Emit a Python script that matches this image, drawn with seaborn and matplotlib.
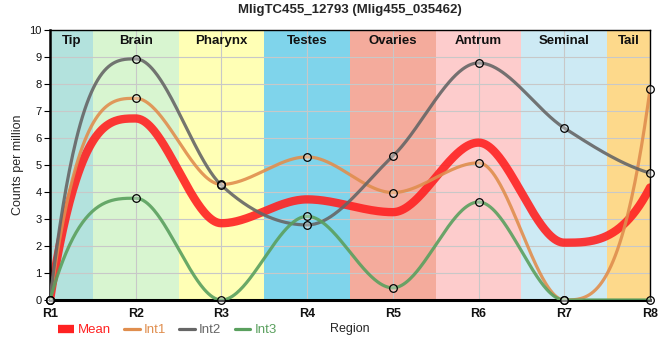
import numpy as np
import pandas as pd
import matplotlib
matplotlib.use("Agg")
import matplotlib.pyplot as plt
from matplotlib.lines import Line2D
import seaborn as sns

# ---- data ----
regions = ["R1", "R2", "R3", "R4", "R5", "R6", "R7", "R8"]
int1 = [0, 7.47, 4.28, 5.30, 3.98, 5.08, 0, 7.80]
int2 = [0, 8.93, 4.25, 2.78, 5.33, 8.78, 6.37, 4.70]
int3 = [0, 3.77, 0, 3.10, 0.45, 3.63, 0, 0]
mean = list(np.mean([int1, int2, int3], axis=0))

band_names = ["Tip", "Brain", "Pharynx", "Testes", "Ovaries", "Antrum", "Seminal", "Tail"]
band_colors = ["#b3e2dd", "#d8f5d0", "#ffffb5", "#7fd4eb", "#f4ab9c", "#fdcccc", "#cdeaf4", "#fdd98b"]

series_colors = {"Mean": "#ff2222", "Int1": "#e08e4e", "Int2": "#666666", "Int3": "#5aa05e"}


def monotone(x, y, n=80):
    # monotone cubic through the points (steffen tangents inside)
    x = np.asarray(x, float); y = np.asarray(y, float)
    h = np.diff(x); s = np.diff(y) / h
    m = np.zeros_like(y)
    for i in range(1, len(y) - 1):
        p = (s[i-1] * h[i] + s[i] * h[i-1]) / (h[i-1] + h[i])
        m[i] = (np.sign(s[i-1]) + np.sign(s[i])) * min(abs(s[i-1]), abs(s[i]), 0.5 * abs(p))
    # end tangents: zero curvature at the inner end of the first/last segment
    m[0] = 3 * s[0] - 2 * m[1]
    m[-1] = 3 * s[-1] - 2 * m[-2]
    xs, ys = [], []
    for i in range(len(h)):
        t = np.linspace(0, 1, n)
        h00 = 2*t**3 - 3*t**2 + 1; h10 = t**3 - 2*t**2 + t
        h01 = -2*t**3 + 3*t**2; h11 = t**3 - t**2
        xs.append(x[i] + t * h[i])
        ys.append(h00*y[i] + h10*h[i]*m[i] + h01*y[i+1] + h11*h[i]*m[i+1])
    return np.concatenate(xs), np.concatenate(ys)


sns.set_theme(style="white")
plt.rcParams["font.family"] = ["Liberation Sans", "DejaVu Sans"]

fig = plt.figure(figsize=(6.6, 3.6), dpi=100)
ax = fig.add_axes([50/660, 60/360, 600/660, 270/360])

xpos = np.arange(len(regions))
for i, (nm, c) in enumerate(zip(band_names, band_colors)):
    lo = max(i - 0.5, 0); hi = min(i + 0.5, len(regions) - 1)
    ax.axvspan(lo, hi, color=c, lw=0, zorder=0)
    ax.text((lo + hi) / 2, 9.58, nm, ha="center", va="center", fontsize=9.5,
            fontweight="bold", color="#111111", zorder=1)

for v in range(11):
    ax.axhline(v, color="#c8c8c8", lw=0.8, zorder=0.5)
for v in xpos:
    ax.axvline(v, color="#c8c8c8", lw=0.8, zorder=0.5)

curves = []
for name, vals in [("Int1", int1), ("Int2", int2), ("Int3", int3), ("Mean", mean)]:
    cx, cy = monotone(xpos, vals)
    curves.append(pd.DataFrame({"x": cx, "y": cy, "series": name}))
curves = pd.concat(curves)

sns.lineplot(data=curves[curves.series == "Mean"], x="x", y="y", color=series_colors["Mean"],
             lw=6, alpha=0.9, ax=ax, zorder=2, estimator=None, sort=False)
for name in ["Int1", "Int2", "Int3"]:
    sns.lineplot(data=curves[curves.series == name], x="x", y="y", color=series_colors[name],
                 lw=2.3, alpha=0.9, ax=ax, zorder=3, estimator=None, sort=False)

pts = pd.DataFrame({"x": np.tile(xpos, 3), "y": int1 + int2 + int3})
sns.scatterplot(data=pts, x="x", y="y", s=30, facecolor=(1, 1, 1, 0.3), edgecolor="black",
                linewidth=0.9, ax=ax, zorder=4, clip_on=False)

ax.set_xlim(0, len(regions) - 1)
ax.set_ylim(0, 10)
ax.set_xticks(xpos)
ax.set_xticklabels(regions, fontsize=9, fontweight="bold", color="#111111")
ax.set_yticks(range(11))
ax.set_yticklabels([str(v) for v in range(11)], fontsize=8, color="#111111")
ax.tick_params(axis="y", length=4, width=0.8, color="black", pad=2, left=True)
ax.tick_params(axis="x", length=0, pad=6)
for sp in ax.spines.values():
    sp.set_visible(True); sp.set_color("black"); sp.set_linewidth(1.0)
ax.spines["bottom"].set_linewidth(2.2)
ax.spines["left"].set_linewidth(1.8)

ax.set_xlabel("Region", fontsize=9, labelpad=2)
ax.set_ylabel("Counts per million", fontsize=9, labelpad=4)
ax.set_title("MligTC455_12793 (Mlig455_035462)", fontsize=9.5, fontweight="bold", pad=12)

handles = [Line2D([], [], color=series_colors["Mean"], lw=6, solid_capstyle="butt"),
           Line2D([], [], color=series_colors["Int1"], lw=2.3),
           Line2D([], [], color=series_colors["Int2"], lw=2.3),
           Line2D([], [], color=series_colors["Int3"], lw=2.3)]
leg = fig.legend(handles, ["Mean", "Int1", "Int2", "Int3"], loc="center left",
                 bbox_to_anchor=(46/660, 1 - 330/360), ncol=4, frameon=False,
                 fontsize=9.5, handlelength=1.2, handletextpad=0.3, columnspacing=1.0)
for t, c in zip(leg.get_texts(), ["Mean", "Int1", "Int2", "Int3"]):
    t.set_color(series_colors[c])

fig.savefig("out.png", dpi=100)
